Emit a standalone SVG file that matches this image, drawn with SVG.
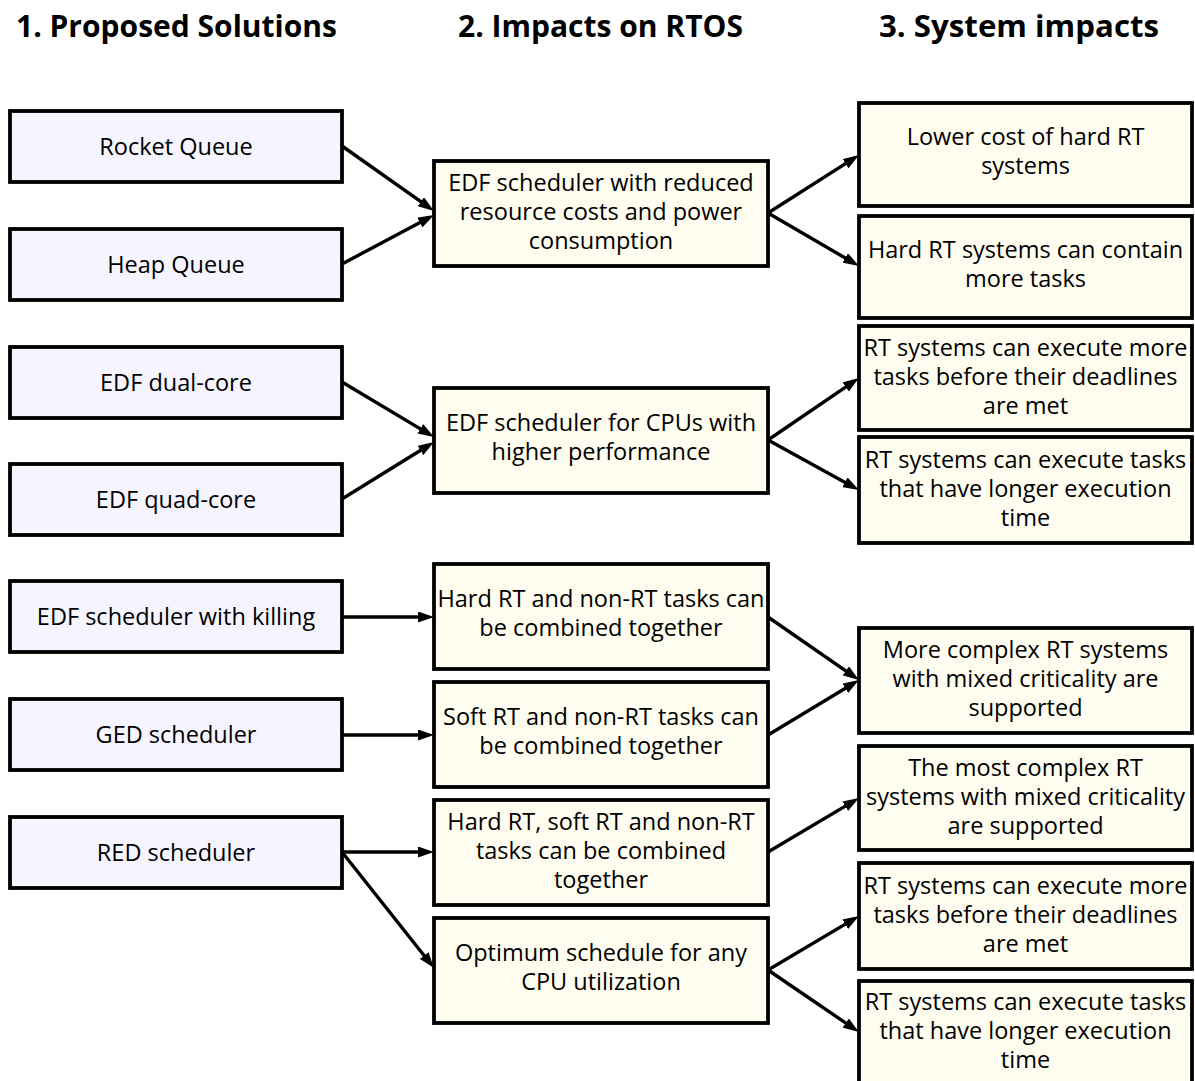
<svg xmlns="http://www.w3.org/2000/svg" width="1195" height="1081" viewBox="0 0 1195 1081">
  <style>
    .hdr { font-family: "Open Sans", "Liberation Sans", sans-serif; font-weight: 700; font-size: 31px; fill: #000; text-anchor: middle; }
    .box rect { stroke: #000; stroke-width: 3.8; }
    .sol rect { fill: #F6F5FF; }
    .imp rect { fill: #FEFDF0; }
    .box text { font-family: "Open Sans", "Liberation Sans", sans-serif; font-size: 23.5px; fill: #000; text-anchor: middle; }
    #connectors line { stroke: #000; stroke-width: 3.4; fill: none; marker-end: url(#arrow); }
  </style>
  <defs>
    <marker id="arrow" markerUnits="userSpaceOnUse" markerWidth="16" markerHeight="11" refX="6" refY="5.5" orient="auto">
      <path d="M0,0 L16,5.5 L0,11 z" fill="#000"/>
    </marker>
  </defs>

  <rect width="1195" height="1081" fill="#fff"/>

  <!-- column headings -->
  <g id="headings">
    <text class="hdr" x="176.5" y="37" textLength="321" lengthAdjust="spacingAndGlyphs">1. Proposed Solutions</text>
    <text class="hdr" x="600.5" y="37" textLength="285" lengthAdjust="spacingAndGlyphs">2. Impacts on RTOS</text>
    <text class="hdr" x="1019" y="37" textLength="280" lengthAdjust="spacingAndGlyphs">3. System impacts</text>
  </g>

  <!-- column 1: proposed solutions -->
  <g id="rocket-queue" class="box sol"><rect x="10" y="111" width="332" height="71"/><text x="176" y="155">Rocket Queue</text></g>
  <g id="heap-queue" class="box sol"><rect x="10" y="229" width="332" height="71"/><text x="176" y="273">Heap Queue</text></g>
  <g id="edf-dual-core" class="box sol"><rect x="10" y="347" width="332" height="71"/><text x="176" y="391">EDF dual-core</text></g>
  <g id="edf-quad-core" class="box sol"><rect x="10" y="464" width="332" height="71"/><text x="176" y="508">EDF quad-core</text></g>
  <g id="edf-killing" class="box sol"><rect x="10" y="581" width="332" height="71"/><text x="176" y="625">EDF scheduler with killing</text></g>
  <g id="ged-scheduler" class="box sol"><rect x="10" y="699" width="332" height="71"/><text x="176" y="743">GED scheduler</text></g>
  <g id="red-scheduler" class="box sol"><rect x="10" y="817" width="332" height="71"/><text x="176" y="861">RED scheduler</text></g>

  <!-- column 2: impacts on RTOS -->
  <g id="edf-reduced-cost" class="box imp"><rect x="434" y="161" width="334" height="105"/>
    <text x="601" y="191">EDF scheduler with reduced</text>
    <text x="601" y="220">resource costs and power</text>
    <text x="601" y="249">consumption</text></g>
  <g id="edf-high-perf" class="box imp"><rect x="434" y="388" width="334" height="105"/>
    <text x="601" y="431">EDF scheduler for CPUs with</text>
    <text x="601" y="460">higher performance</text></g>
  <g id="hard-nonrt" class="box imp"><rect x="434" y="564" width="334" height="105"/>
    <text x="601" y="607">Hard RT and non-RT tasks can</text>
    <text x="601" y="636">be combined together</text></g>
  <g id="soft-nonrt" class="box imp"><rect x="434" y="682" width="334" height="105"/>
    <text x="601" y="725">Soft RT and non-RT tasks can</text>
    <text x="601" y="754">be combined together</text></g>
  <g id="hard-soft-nonrt" class="box imp"><rect x="434" y="800" width="334" height="105"/>
    <text x="601" y="830">Hard RT, soft RT and non-RT</text>
    <text x="601" y="859">tasks can be combined</text>
    <text x="601" y="888">together</text></g>
  <g id="optimum-schedule" class="box imp"><rect x="434" y="918" width="334" height="105"/>
    <text x="601" y="961">Optimum schedule for any</text>
    <text x="601" y="990">CPU utilization</text></g>

  <!-- column 3: system impacts -->
  <g id="lower-cost" class="box imp"><rect x="859" y="103" width="333" height="103"/>
    <text x="1025.5" y="145">Lower cost of hard RT</text>
    <text x="1025.5" y="174">systems</text></g>
  <g id="more-tasks" class="box imp"><rect x="859" y="216" width="333" height="102"/>
    <text x="1025.5" y="257.5">Hard RT systems can contain</text>
    <text x="1025.5" y="286.5">more tasks</text></g>
  <g id="deadlines-a" class="box imp"><rect x="859" y="326" width="333" height="104"/>
    <text x="1025.5" y="355.5">RT systems can execute more</text>
    <text x="1025.5" y="384.5">tasks before their deadlines</text>
    <text x="1025.5" y="413.5">are met</text></g>
  <g id="longer-exec-a" class="box imp"><rect x="859" y="437" width="333" height="106"/>
    <text x="1025.5" y="467.5">RT systems can execute tasks</text>
    <text x="1025.5" y="496.5">that have longer execution</text>
    <text x="1025.5" y="525.5">time</text></g>
  <g id="mixed-criticality" class="box imp"><rect x="859" y="628" width="333" height="105"/>
    <text x="1025.5" y="658">More complex RT systems</text>
    <text x="1025.5" y="687">with mixed criticality are</text>
    <text x="1025.5" y="716">supported</text></g>
  <g id="most-complex" class="box imp"><rect x="859" y="746" width="333" height="104"/>
    <text x="1025.5" y="775.5">The most complex RT</text>
    <text x="1025.5" y="804.5">systems with mixed criticality</text>
    <text x="1025.5" y="833.5">are supported</text></g>
  <g id="deadlines-b" class="box imp"><rect x="859" y="863" width="333" height="106"/>
    <text x="1025.5" y="893.5">RT systems can execute more</text>
    <text x="1025.5" y="922.5">tasks before their deadlines</text>
    <text x="1025.5" y="951.5">are met</text></g>
  <g id="longer-exec-b" class="box imp"><rect x="859" y="981" width="333" height="103"/>
    <text x="1025.5" y="1010">RT systems can execute tasks</text>
    <text x="1025.5" y="1039">that have longer execution</text>
    <text x="1025.5" y="1068">time</text></g>

  <!-- arrows: each line stops 10px short of its tip; the marker supplies the head -->
  <g id="connectors">
    <line x1="342" y1="146" x2="425.8" y2="205.2"/>
    <line x1="342" y1="264" x2="425.2" y2="219.7"/>
    <line x1="342" y1="382" x2="425.4" y2="431.9"/>
    <line x1="342" y1="499" x2="425.5" y2="447.3"/>
    <line x1="342" y1="617" x2="424" y2="617"/>
    <line x1="342" y1="735" x2="424" y2="735"/>
    <line x1="342" y1="852" x2="424" y2="852"/>
    <line x1="342" y1="852" x2="427.8" y2="960.2"/>
    <line x1="768" y1="213" x2="850.6" y2="160.4"/>
    <line x1="768" y1="213" x2="850.4" y2="261.0"/>
    <line x1="768" y1="440" x2="850.7" y2="383.6"/>
    <line x1="768" y1="440" x2="850.2" y2="485.2"/>
    <line x1="768" y1="617" x2="850.8" y2="674.3"/>
    <line x1="768" y1="735" x2="850.4" y2="685.2"/>
    <line x1="768" y1="852" x2="850.4" y2="803.1"/>
    <line x1="768" y1="970" x2="850.4" y2="921.1"/>
    <line x1="768" y1="970" x2="850.7" y2="1026.4"/>
  </g>
</svg>
